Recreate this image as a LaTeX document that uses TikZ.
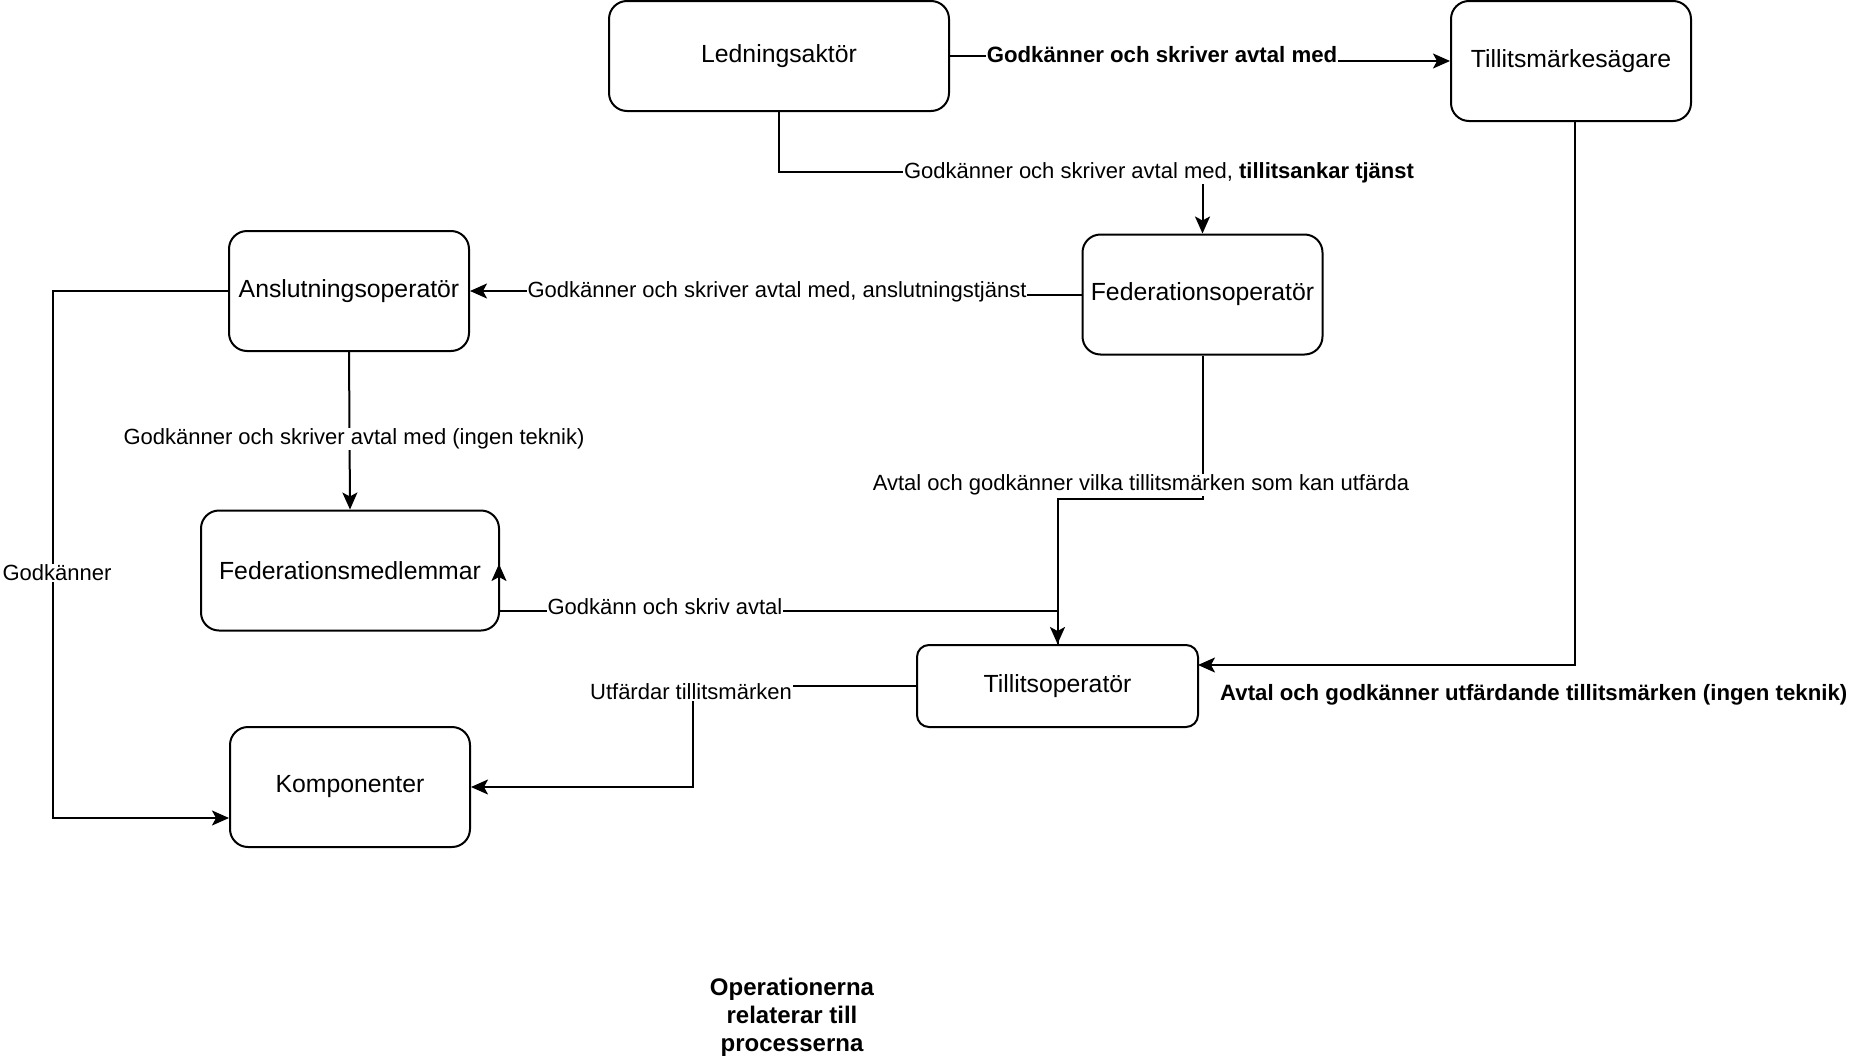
\documentclass[tikz,border=0pt]{standalone}
\usepackage{fontspec}
\setmainfont{Liberation Sans}
\usetikzlibrary{arrows.meta,calc}
\begin{document}
\begin{tikzpicture}[x=1pt,y=-1pt,
  box/.style={draw, line width=2pt, rounded corners=18pt, minimum width=240pt, minimum height=120pt, inner sep=0pt, font=\fontsize{24.8}{29}\selectfont},
  conn/.style={line width=2pt},
  arr/.style={conn, -{Stealth[length=17pt,width=15pt,inset=4pt]}},
  lbl/.style={fill=white, inner sep=1pt, font=\fontsize{22}{26}\selectfont},
  blbl/.style={lbl, font=\bfseries\fontsize{22.2}{26}\selectfont},
]
\useasboundingbox (0,0) rectangle (1850,1060);

% nodes
\node[box, minimum width=340pt, minimum height=110pt] (led) at (779,56) {Ledningsaktör};
\node[box] (tm) at (1571,61) {Tillitsmärkesägare};
\node[box] (fed) at (1202.5,294.5) {Federationsoperatör};
\node[box] (ansl) at (349,291) {Anslutningsoperatör};
\node[box, minimum width=298pt] (fm) at (350,570.5) {Federationsmedlemmar};
\node[box] (komp) at (350,787) {Komponenter};
\node[box, minimum width=281pt, minimum height=82pt, rounded corners=12pt] (tillop) at (1057.5,686) {Tillitsoperatör};

\coordinate (tmb) at (1575,121);
\coordinate (tope) at (1198,665);
\coordinate (fmin) at (499,564);
\coordinate (kompin) at ($(komp.south west)+(0,-30)$);

% connectors
\draw[arr] (led.east) -- (1162,56) -- (1162,61) -- (tm.west);
\draw[arr] (led.south) |- (1202.5,172) -- (fed.north);
\draw[arr] (fed.west) -- (777,294.5) -- (777,291) -- (ansl.east);
\draw[arr] (ansl.south) -- (fm.north);
\draw[arr] (ansl.west) -- (53,291) |- (kompin);
\draw[arr] (fed.south) -- (1202.5,499) -| (tillop.north);
\draw[arr] (tillop.north) -- (1057.5,611) -- (499,611) -- (fmin);
\draw[arr] (tillop.west) -- (693,686) |- (komp.east);
\draw[arr] (tmb) |- (tope);

% labels
\node[blbl] at (1162,55) {Godkänner och skriver avtal med};
\node[lbl] at (1159,173) {Godkänner och skriver avtal med, \textbf{tillitsankar tjänst}};
\node[lbl] at (777,292) {Godkänner och skriver avtal med, anslutningstjänst};
\node[lbl] at (354,439) {Godkänner och skriver avtal med (ingen teknik)};
\node[lbl] at (57,573) {Godkänner};
\node[lbl] at (1141,485) {Avtal och godkänner vilka tillitsmärken som kan utfärda};
\node[lbl] at (665,607) {Godkänn och skriv avtal};
\node[lbl] at (691,692) {Utfärdar tillitsmärken};
\node[blbl, anchor=west] at (1219,695) {Avtal och godkänner utfärdande tillitsmärken (ingen teknik)};

\node[align=center, font=\bfseries\fontsize{24}{28}\selectfont] (ops) at (792,1017) {Operationerna\\relaterar till\\processerna};
\end{tikzpicture}
\end{document}
